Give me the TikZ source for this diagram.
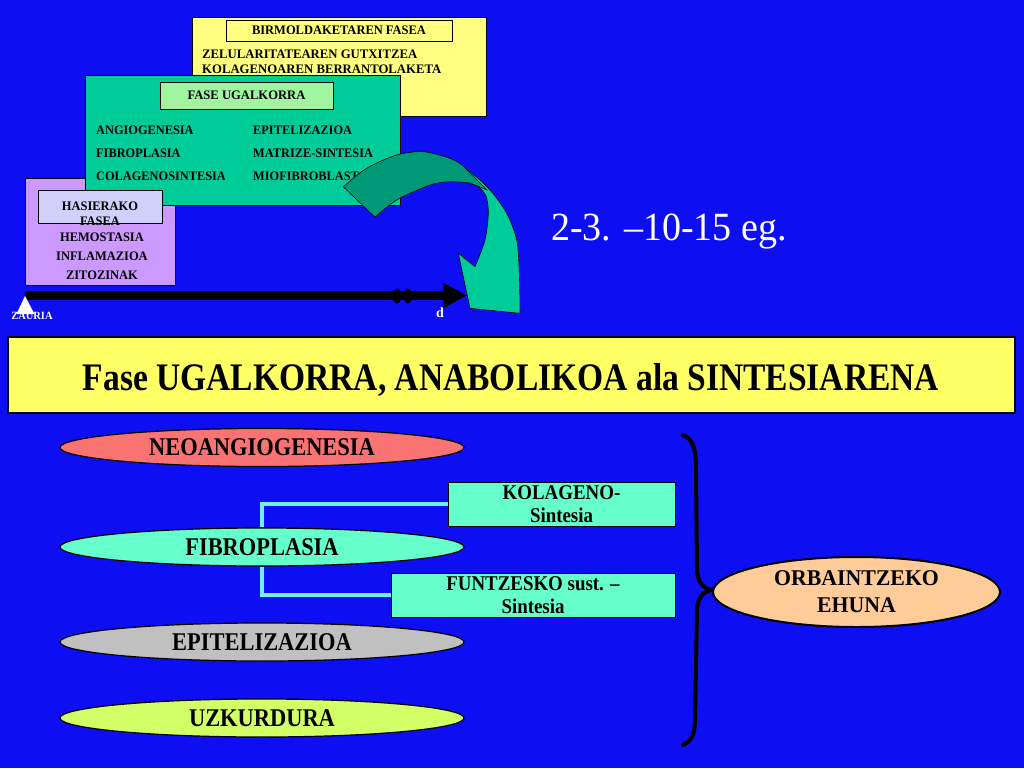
\documentclass[tikz,border=0pt]{standalone}
\usepackage{fontspec}
\setmainfont{Liberation Serif}
\usepackage{graphicx}
\usetikzlibrary{shapes.geometric,arrows.meta}
\definecolor{bg}{RGB}{14,14,242}
\definecolor{yelA}{RGB}{255,255,128}
\definecolor{yelB}{RGB}{255,255,102}
\definecolor{grnA}{RGB}{0,204,153}
\definecolor{grnL}{RGB}{160,245,160}
\definecolor{lavA}{RGB}{204,153,255}
\definecolor{lavL}{RGB}{208,208,250}
\definecolor{salm}{RGB}{250,115,115}
\definecolor{aqua}{RGB}{102,255,204}
\definecolor{greyA}{RGB}{192,192,192}
\definecolor{limeA}{RGB}{210,255,102}
\definecolor{peach}{RGB}{255,204,153}
\definecolor{connc}{RGB}{110,240,240}
\definecolor{arrD}{RGB}{0,153,119}
\definecolor{arrL}{RGB}{0,204,153}
\newcommand{\sqz}[2]{\scalebox{#1}[1]{#2}}
\begin{document}
\begin{tikzpicture}[x=1pt,y=-1pt,
  rbox/.style={rectangle, draw=black, line width=0.8, inner sep=0},
  small/.style={font=\bfseries\fontsize{13}{15}\selectfont, inner sep=0, text=black},
  ell/.style={ellipse, draw=black, line width=1.2, minimum width=404, minimum height=38, inner sep=0,
              font=\bfseries\fontsize{25.5}{28}\selectfont},
  tbox/.style={rectangle, draw=black, line width=1, inner sep=0, align=center,
              font=\bfseries\fontsize{21}{23}\selectfont},
  conn/.style={draw=connc, line width=4},
  arrowbody/.style={draw=black, line width=0.6}
]
\useasboundingbox (0,0) rectangle (1024,768);
\fill[bg] (0,0) rectangle (1024,768);

% yellow box (remodelling)
\node[rbox, fill=yelA, minimum width=294, minimum height=99] (yb) at (339,66.5) {};
\node[rbox, fill=yelA, minimum width=226, minimum height=21, small] (yl) at (339,30.5) {\sqz{0.96}{BIRMOLDAKETAREN FASEA}};
\node[small, anchor=west] (y1) at (202,54) {\sqz{0.98}{ZELULARITATEAREN GUTXITZEA}};
\node[small, anchor=west] (y2) at (202,69) {\sqz{0.98}{KOLAGENOAREN BERRANTOLAKETA}};

% lavender box (initial)
\node[rbox, fill=lavA, minimum width=150, minimum height=107] (lb) at (100,231.5) {};

% green box (proliferative)
\node[rbox, fill=grnA, minimum width=315, minimum height=130] (gb) at (242.5,140) {};
\node[rbox, fill=grnL, minimum width=173, minimum height=27, small] (gl) at (246.5,95.5) {\sqz{0.97}{FASE UGALKORRA}};
\node[small, anchor=west] (g1) at (96,130) {\sqz{0.95}{ANGIOGENESIA}};
\node[small, anchor=west] (g2) at (96,153) {\sqz{0.95}{FIBROPLASIA}};
\node[small, anchor=west] (g3) at (96,176) {\sqz{0.95}{COLAGENOSINTESIA}};
\node[small, anchor=west] (g4) at (253,130) {\sqz{0.95}{EPITELIZAZIOA}};
\node[small, anchor=west] (g5) at (253,153) {\sqz{0.95}{MATRIZE-SINTESIA}};
\node[small, anchor=west] (g6) at (253,176) {\sqz{0.95}{MIOFIBROBLASTOAK}};

% lavender label and texts
\node[rbox, fill=lavL, minimum width=124, minimum height=33] (ll) at (100,206.5) {};
\node[small] (l0a) at (100,206) {\sqz{0.96}{HASIERAKO}};
\node[small] (l0b) at (100,221) {\sqz{0.96}{FASEA}};
\node[small] (l1) at (102,237) {\sqz{0.96}{HEMOSTASIA}};
\node[small] (l2) at (102,256) {\sqz{0.96}{INFLAMAZIOA}};
\node[small] (l3) at (102,275) {\sqz{0.96}{ZITOZINAK}};

% timeline
\coordinate (t0) at (25,295.5);
\coordinate (t1) at (467,295.5);
\draw[line width=9, -{Triangle[length=24,width=24]}] (t0) -- (t1);
\fill[black] (397,296) ellipse [x radius=4, y radius=7.5];
\fill[black] (408,296) ellipse [x radius=4, y radius=7.5];
\fill[white] (25,296) -- (16.5,314) -- (34.5,314) -- cycle;
\node[font=\bfseries\fontsize{11}{12}\selectfont, text=white, inner sep=0] (za) at (32,316) {\sqz{0.95}{ZAURIA}};
\node[font=\bfseries\fontsize{14}{15}\selectfont, text=white, inner sep=0] (dd) at (440,313) {d};

% curved arrow
\filldraw[fill=arrL, arrowbody]
  plot[smooth] coordinates {(450,158.3) (470,171.7) (490,190) (506.7,213.3) (516.7,240) (519.3,273.3) (520,313.3)}
  -- (470,308.3) -- (458.3,253.3)
  -- plot[smooth] coordinates {(475,266.7) (485,240) (488.3,213.3) (486,196) (478,186)}
  -- (460,181) -- cycle;
\filldraw[fill=arrD, arrowbody]
  plot[smooth] coordinates {(343.3,186.7) (366.7,168.3) (396.7,155) (423.3,151.7) (450,158.3) (462,165)}
  -- (487,190)
  -- plot[smooth] coordinates {(470,183) (450,181.7) (430,185) (396.7,200) (375,217.3)}
  -- cycle;

% duration
\node[font=\fontsize{40}{44}\selectfont, text=white, anchor=base, inner sep=0] (dur) at (669,240) {\sqz{0.95}{2-3. –10-15 eg.}};

% banner
\node[rbox, fill=yelB, line width=1.2, minimum width=1007, minimum height=76] (ban) at (511.5,375) {};
\node[font=\bfseries\fontsize{39}{42}\selectfont, anchor=base, inner sep=0] (bant) at (511,390) {\sqz{0.86}{Fase UGALKORRA, ANABOLIKOA ala SINTESIARENA}};

% ellipses
\node[ell, fill=salm] (neo) at (262,447.5) {\sqz{0.88}{NEOANGIOGENESIA}};
\node[ell, fill=aqua] (fib) at (262,547) {\sqz{0.88}{FIBROPLASIA}};
\node[ell, fill=greyA] (epi) at (262,642) {\sqz{0.88}{EPITELIZAZIOA}};
\node[ell, fill=limeA] (uzk) at (262,718) {\sqz{0.88}{UZKURDURA}};

% boxes
\node[tbox, fill=aqua, minimum width=227, minimum height=44] (kol) at (561.5,504) {\sqz{0.9}{KOLAGENO-}\\\sqz{0.9}{Sintesia}};
\node[tbox, fill=aqua, minimum width=284, minimum height=44] (fun) at (533,595) {\sqz{0.9}{FUNTZESKO sust. –}\\\sqz{0.9}{Sintesia}};

% connectors
\draw[conn] (kol.west) -| (fib.north);
\draw[conn] (fib.south) |- (fun.west);

% brace
\coordinate (bt) at (683,435);
\coordinate (bm) at (711,590);
\coordinate (bb) at (683,745);
\draw[line width=4, line cap=round] (bt) .. controls (695,440) and (696,452) .. (696,472)
  -- (697,568) .. controls (697,582) and (703,588) .. (bm)
  .. controls (703,592) and (697,598) .. (697,612)
  -- (695,720) .. controls (695,736) and (690,742) .. (bb);

% result
\node[ellipse, draw=black, line width=2, fill=peach, minimum width=287, minimum height=70, inner sep=0,
      align=center, font=\bfseries\fontsize{22.5}{27}\selectfont] (orb) at (856.5,592) {\sqz{0.97}{ORBAINTZEKO}\\\sqz{0.97}{EHUNA}};
\end{tikzpicture}
\end{document}
